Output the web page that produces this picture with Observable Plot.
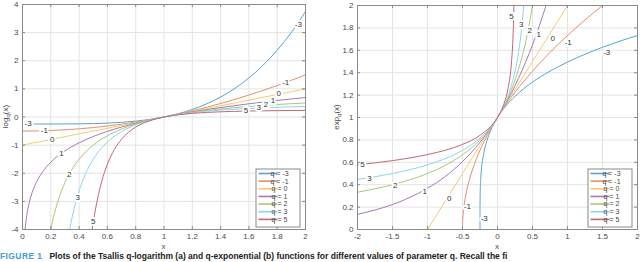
<!DOCTYPE html>
<html>
<head>
<meta charset="utf-8">
<script src="https://cdn.jsdelivr.net/npm/d3@7"></script>
<script src="https://cdn.jsdelivr.net/npm/@observablehq/plot@0.6"></script>
<style>
  html, body { margin: 0; padding: 0; background: #fff; }
  #wrap { position: relative; width: 640px; height: 262px; overflow: hidden; font-family: "Liberation Sans", Arial, Helvetica, sans-serif; }
  #left { position: absolute; left: 0; top: 0; }
  #right { position: absolute; left: 320px; top: 0; }
  #caption { position: absolute; left: 0; top: 250.5px; width: 640px; white-space: nowrap; font-size: 8.5px; line-height: 10px; font-weight: bold; color: #222; }
  #caption .fig { color: #4a9ad6; letter-spacing: 0.4px; margin-right: 7px; }
</style>
</head>
<body>
<div id="wrap">
  <div id="left"></div>
  <div id="right"></div>
  <div id="caption"><span class="fig">FIGURE 1</span>Plots of the Tsallis q-logarithm (a) and q-exponential (b) functions for different values of parameter q. Recall the fi</div>
</div>
<script>
// ---------- series definitions ----------
const qValues = [-3, -1, 0, 1, 2, 3, 5];
const qColors = ["#59a3d4", "#e68f69", "#f3cc6e", "#ab78b6", "#a7c978", "#8bd5f4", "#c26678"];

// ---------- panel (a): q-logarithm ----------
const logXm3 = [0, 0.2, 0.4, 0.6, 0.8, 0.9, 1.0, 1.1, 1.2, 1.3, 1.4, 1.5, 1.6, 1.7, 1.8, 1.9, 2.0];
const logYm3 = [-0.25, -0.2496, -0.2436, -0.2176, -0.1476, -0.086, 0, 0.116, 0.2684, 0.464, 0.7104, 1.0156, 1.3884, 1.838, 2.3744, 3.008, 3.75];
const logXm1 = [0, 0.2, 0.4, 0.6, 0.8, 0.9, 1.0, 1.1, 1.2, 1.3, 1.4, 1.5, 1.6, 1.7, 1.8, 1.9, 2.0];
const logYm1 = [-0.5, -0.48, -0.42, -0.32, -0.18, -0.095, 0, 0.105, 0.22, 0.345, 0.48, 0.625, 0.78, 0.945, 1.12, 1.305, 1.5];
const logX0 = [0, 0.5, 1.0, 1.5, 2.0];
const logY0 = [-1, -0.5, 0, 0.5, 1];
const logX1 = [0.0183, 0.025, 0.035, 0.05, 0.075, 0.1, 0.15, 0.2, 0.3, 0.4, 0.5, 0.6, 0.7, 0.8, 0.9, 1.0, 1.2, 1.4, 1.6, 1.8, 2.0];
const logY1 = [-4, -3.689, -3.352, -2.996, -2.59, -2.303, -1.897, -1.609, -1.204, -0.916, -0.693, -0.511, -0.357, -0.223, -0.105, 0, 0.182, 0.336, 0.47, 0.588, 0.693];
const logX2 = [0.2, 0.22, 0.25, 0.3, 0.35, 0.4, 0.5, 0.6, 0.7, 0.8, 0.9, 1.0, 1.2, 1.4, 1.6, 1.8, 2.0];
const logY2 = [-4, -3.545, -3, -2.333, -1.857, -1.5, -1, -0.667, -0.429, -0.25, -0.111, 0, 0.167, 0.286, 0.375, 0.444, 0.5];
const logX3 = [0.3333, 0.35, 0.38, 0.42, 0.46, 0.5, 0.55, 0.6, 0.7, 0.8, 0.9, 1.0, 1.2, 1.4, 1.6, 1.8, 2.0];
const logY3 = [-4, -3.582, -2.963, -2.334, -1.863, -1.5, -1.153, -0.889, -0.52, -0.281, -0.117, 0, 0.153, 0.245, 0.305, 0.346, 0.375];
const logX5 = [0.4924, 0.51, 0.53, 0.56, 0.6, 0.65, 0.7, 0.75, 0.8, 0.9, 1.0, 1.1, 1.2, 1.4, 1.6, 1.8, 2.0];
const logY5 = [-4, -3.445, -2.918, -2.292, -1.679, -1.15, -0.791, -0.54, -0.36, -0.131, 0, 0.079, 0.129, 0.185, 0.212, 0.226, 0.234];

const logXTicks = [0, 0.2, 0.4, 0.6, 0.8, 1, 1.2, 1.4, 1.6, 1.8, 2];
const logYTicks = [-4, -3, -2, -1, 0, 1, 2, 3, 4];

// inline curve labels (a)
const logLabelQ = [-3, -1, 0, 1, 2, 3, 5, -3, -1, 0, 1, 2, 3, 5];
const logLabelX = [0.04, 0.155, 0.21, 0.275, 0.33, 0.39, 0.5, 1.95, 1.86, 1.81, 1.77, 1.72, 1.67, 1.58];
const logLabelY = [-0.24, -0.48, -0.79, -1.3, -2.05, -2.85, -3.7, 3.3, 1.23, 0.84, 0.6, 0.44, 0.35, 0.25];

// ---------- panel (b): q-exponential ----------
const expXm3 = [-2, -0.25, -0.2499, -0.2495, -0.245, -0.24, -0.23, -0.2, -0.15, -0.1, 0, 0.1, 0.25, 0.5, 0.75, 1, 1.25, 1.5, 1.75, 2];
const expYm3 = [0, 0, 0.141, 0.211, 0.376, 0.447, 0.532, 0.669, 0.795, 0.88, 1, 1.088, 1.189, 1.316, 1.414, 1.495, 1.565, 1.627, 1.682, 1.732];
const expXm1 = [-2, -0.5, -0.499, -0.495, -0.49, -0.48, -0.45, -0.4, -0.3, -0.2, -0.1, 0, 0.25, 0.5, 0.75, 1, 1.25, 1.5];
const expYm1 = [0, 0, 0.045, 0.1, 0.141, 0.2, 0.316, 0.447, 0.632, 0.775, 0.894, 1, 1.225, 1.414, 1.581, 1.732, 1.871, 2.0];
const expX0 = [-1, 0, 1];
const expY0 = [0, 1, 2];
const expX1 = [-2, -1.75, -1.5, -1.25, -1, -0.75, -0.5, -0.25, 0, 0.2, 0.4, 0.6, 0.7];
const expY1 = [0.135, 0.174, 0.223, 0.287, 0.368, 0.472, 0.607, 0.779, 1, 1.221, 1.492, 1.822, 2.014];
const expX2 = [-2, -1.5, -1, -0.75, -0.5, -0.25, 0, 0.1, 0.2, 0.3, 0.4, 0.5];
const expY2 = [0.333, 0.4, 0.5, 0.571, 0.667, 0.8, 1, 1.111, 1.25, 1.429, 1.667, 2];
const expX3 = [-2, -1.5, -1, -0.75, -0.5, -0.25, 0, 0.1, 0.2, 0.3, 0.35, 0.375];
const expY3 = [0.447, 0.5, 0.577, 0.632, 0.707, 0.816, 1, 1.118, 1.291, 1.581, 1.826, 2];
const expX5 = [-2, -1.5, -1, -0.75, -0.5, -0.25, 0, 0.05, 0.1, 0.15, 0.2, 0.22, 0.234, 0.235];
const expY5 = [0.577, 0.615, 0.669, 0.707, 0.76, 0.841, 1, 1.057, 1.136, 1.257, 1.495, 1.699, 1.988, 2.02];

const expXTicks = [-2, -1.5, -1, -0.5, 0, 0.5, 1, 1.5, 2];
const expYTicks = [0, 0.2, 0.4, 0.6, 0.8, 1, 1.2, 1.4, 1.6, 1.8, 2];

// inline curve labels (b)
const expLabelQ = [5, 3, 2, 1, 0, -1, -3, 5, 3, 2, 1, 0, -1, -3];
const expLabelX = [0.2, 0.34, 0.46, 0.59, 0.79, 1.01, 1.56, -1.93, -1.83, -1.46, -1.04, -0.69, -0.43, -0.19];
const expLabelY = [1.9, 1.83, 1.78, 1.74, 1.71, 1.67, 1.58, 0.58, 0.455, 0.39, 0.34, 0.28, 0.21, 0.1];

// ---------- build tables ----------
function rowsOf(pairs) {
  const rows = [];
  pairs.forEach(([q, xs, ys]) => xs.forEach((x, i) => rows.push({q, x, y: ys[i]})));
  return rows;
}
const logRows = rowsOf([[-3, logXm3, logYm3], [-1, logXm1, logYm1], [0, logX0, logY0], [1, logX1, logY1], [2, logX2, logY2], [3, logX3, logY3], [5, logX5, logY5]]);
const expRows = rowsOf([[-3, expXm3, expYm3], [-1, expXm1, expYm1], [0, expX0, expY0], [1, expX1, expY1], [2, expX2, expY2], [3, expX3, expY3], [5, expX5, expY5]]);
const logLabels = logLabelQ.map((q, i) => ({q, x: logLabelX[i], y: logLabelY[i]}));
const expLabels = expLabelQ.map((q, i) => ({q, x: expLabelX[i], y: expLabelY[i]}));

const FONT = '"Liberation Sans", Arial, Helvetica, sans-serif';
const fmt = d => String(d);

function panel({width, height, mt, mr, mb, ml, xDomain, yDomain, xTicks, yTicks, rows, labels}) {
  const iw = width - ml - mr, ih = height - mt - mb;
  const tk = 3;
  return Plot.plot({
    width, height, marginTop: mt, marginRight: mr, marginBottom: mb, marginLeft: ml,
    style: {fontFamily: FONT, fontSize: "8px", color: "#4a4a4a", background: "white", overflow: "visible"},
    x: {domain: xDomain},
    y: {domain: yDomain},
    color: {type: "ordinal", domain: qValues, range: qColors},
    marks: [
      Plot.gridX(xTicks, {stroke: "#e3e3e3", strokeOpacity: 1}),
      Plot.gridY(yTicks, {stroke: "#e3e3e3", strokeOpacity: 1}),
      Plot.line(rows, {x: "x", y: "y", z: "q", stroke: "q", strokeWidth: 1, curve: "monotone-x", clip: true}),
      Plot.text(labels, {x: "x", y: "y", text: d => String(d.q), fill: "#333", stroke: "white", strokeWidth: 4, fontSize: 8, clip: true}),
      Plot.tickX(xTicks, {x: d => d, insetTop: ih - tk, stroke: "#8a8a8a"}),
      Plot.tickX(xTicks, {x: d => d, insetBottom: ih - tk, stroke: "#8a8a8a"}),
      Plot.tickY(yTicks, {y: d => d, insetRight: iw - tk, stroke: "#8a8a8a"}),
      Plot.tickY(yTicks, {y: d => d, insetLeft: iw - tk, stroke: "#8a8a8a"}),
      Plot.axisX(xTicks, {tickSize: 0, tickPadding: 4, tickFormat: fmt, label: null}),
      Plot.axisY(yTicks, {tickSize: 0, tickPadding: 4, tickFormat: fmt, label: null}),
      Plot.frame({stroke: "#8a8a8a"})
    ]
  });
}

function decorate(svgNode, {width, height, mt, mr, mb, ml, yLabelX, yName}) {
  const svg = d3.select(svgNode);
  const iw = width - ml - mr, ih = height - mt - mb;
  // x label
  svg.append("text").attr("x", ml + iw / 2).attr("y", height - 1.5)
    .attr("text-anchor", "middle").attr("font-size", 8).attr("fill", "#4a4a4a").text("x");
  // y label with subscript
  const yt = svg.append("text").attr("transform", `translate(${yLabelX},${mt + ih / 2}) rotate(-90)`)
    .attr("text-anchor", "middle").attr("font-size", 8).attr("fill", "#4a4a4a");
  yt.append("tspan").text(yName);
  yt.append("tspan").attr("font-size", 6).attr("dy", 2).text("q");
  yt.append("tspan").attr("dy", -2).text("(x)");
  // legend
  const bw = 44, rowH = 7.65, bh = 58;
  const bx = ml + iw - 5 - bw, by = mt + ih - 2 - bh;
  const g = svg.append("g");
  g.append("rect").attr("x", bx).attr("y", by).attr("width", bw).attr("height", bh)
    .attr("fill", "white").attr("stroke", "#8a8a8a").attr("stroke-width", 1);
  qValues.forEach((q, i) => {
    const cy = by + 4.5 + i * rowH;
    g.append("line").attr("x1", bx + 2.5).attr("x2", bx + 21.5).attr("y1", cy).attr("y2", cy)
      .attr("stroke", qColors[i]).attr("stroke-width", 1.6);
    g.append("text").attr("x", bx + 23.5).attr("y", cy).attr("dy", "0.34em")
      .attr("font-size", 7).attr("fill", "#444").text(`q = ${q}`);
  });
}

const L = {width: 320, height: 250, mt: 4, mr: 15, mb: 21, ml: 22};
const leftPlot = panel({...L, xDomain: [0, 2], yDomain: [-4, 4], xTicks: logXTicks, yTicks: logYTicks, rows: logRows, labels: logLabels});
decorate(leftPlot, {...L, yLabelX: 8, yName: "log"});
document.getElementById("left").appendChild(leftPlot);

const R = {width: 320, height: 250, mt: 5, mr: 3, mb: 21, ml: 37};
const rightPlot = panel({...R, xDomain: [-2, 2], yDomain: [0, 2], xTicks: expXTicks, yTicks: expYTicks, rows: expRows, labels: expLabels});
decorate(rightPlot, {...R, yLabelX: 19, yName: "exp"});
document.getElementById("right").appendChild(rightPlot);
</script>
</body>
</html>
